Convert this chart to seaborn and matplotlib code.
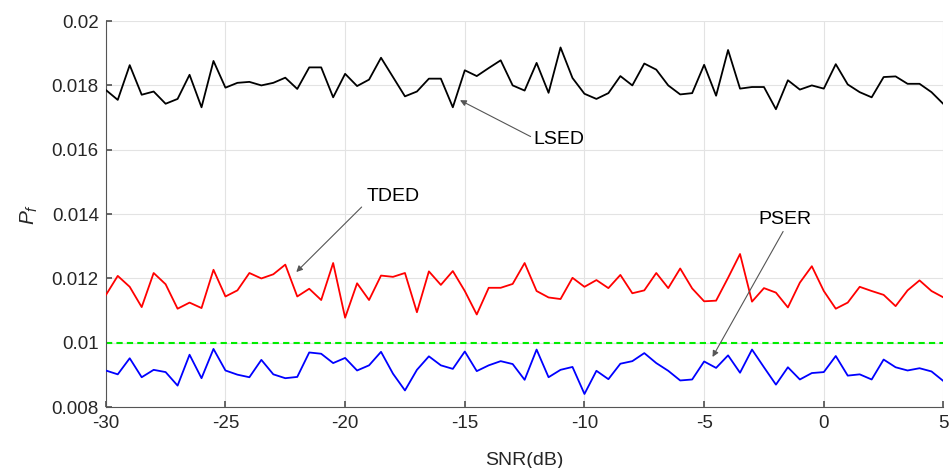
import numpy as np
import pandas as pd
import matplotlib
matplotlib.use("Agg")
import matplotlib.pyplot as plt
import seaborn as sns

snr = np.arange(-30, 5.01, 0.5)

lsed = [0.01786, 0.01755, 0.01863, 0.01771, 0.01781, 0.01743, 0.01758, 0.01833, 0.01732, 0.01876,
        0.01793, 0.01808, 0.01811, 0.01800, 0.01808, 0.01824, 0.01789, 0.01856, 0.01856, 0.01763,
        0.01836, 0.01798, 0.01818, 0.01886, 0.01826, 0.01766, 0.01781, 0.01821, 0.01821, 0.01732,
        0.01847, 0.01829, 0.01854, 0.01878, 0.01800, 0.01784, 0.01870, 0.01777, 0.01918, 0.01823,
        0.01774, 0.01758, 0.01776, 0.01829, 0.01800, 0.01868, 0.01849, 0.01800, 0.01772, 0.01776,
        0.01864, 0.01768, 0.01910, 0.01790, 0.01795, 0.01795, 0.01726, 0.01816, 0.01787, 0.01800,
        0.01790, 0.01866, 0.01803, 0.01779, 0.01763, 0.01826, 0.01828, 0.01805, 0.01805, 0.01779,
        0.01742]

tded = [0.01148, 0.01208, 0.01174, 0.01111, 0.01217, 0.01182, 0.01106, 0.01125, 0.01108, 0.01227,
        0.01144, 0.01163, 0.01217, 0.01200, 0.01213, 0.01243, 0.01144, 0.01168, 0.01133, 0.01248,
        0.01078, 0.01185, 0.01133, 0.01209, 0.01205, 0.01217, 0.01095, 0.01222, 0.01180, 0.01223,
        0.01161, 0.01088, 0.01171, 0.01171, 0.01183, 0.01248, 0.01161, 0.01141, 0.01136, 0.01202,
        0.01174, 0.01195, 0.01170, 0.01211, 0.01154, 0.01163, 0.01217, 0.01170, 0.01231, 0.01169,
        0.01129, 0.01131, 0.01202, 0.01276, 0.01128, 0.01170, 0.01156, 0.01110, 0.01187, 0.01238,
        0.01161, 0.01106, 0.01125, 0.01174, 0.01161, 0.01149, 0.01114, 0.01163, 0.01194, 0.01161,
        0.01141]

pser = [0.00914, 0.00902, 0.00952, 0.00893, 0.00916, 0.00909, 0.00867, 0.00963, 0.00890, 0.00981,
        0.00914, 0.00901, 0.00893, 0.00947, 0.00902, 0.00890, 0.00894, 0.00970, 0.00966, 0.00937,
        0.00953, 0.00914, 0.00930, 0.00972, 0.00904, 0.00852, 0.00916, 0.00958, 0.00930, 0.00919,
        0.00973, 0.00912, 0.00930, 0.00943, 0.00934, 0.00885, 0.00979, 0.00893, 0.00916, 0.00925,
        0.00841, 0.00913, 0.00887, 0.00935, 0.00943, 0.00968, 0.00937, 0.00913, 0.00883, 0.00886,
        0.00942, 0.00922, 0.00961, 0.00907, 0.00979, 0.00924, 0.00870, 0.00924, 0.00886, 0.00906,
        0.00909, 0.00959, 0.00898, 0.00902, 0.00886, 0.00948, 0.00924, 0.00914, 0.00921, 0.00911,
        0.00881]

threshold = 0.01

x_ticks = [-30, -25, -20, -15, -10, -5, 0, 5]
y_ticks = [0.008, 0.01, 0.012, 0.014, 0.016, 0.018, 0.02]
y_tick_labels = ["0.008", "0.01", "0.012", "0.014", "0.016", "0.018", "0.02"]

df = pd.DataFrame({
    "SNR": np.concatenate([snr, snr, snr]),
    "Pf": np.concatenate([lsed, tded, pser]),
    "method": ["LSED"] * len(snr) + ["TDED"] * len(snr) + ["PSER"] * len(snr),
})

sns.set_theme(style="white")
plt.rcParams["font.family"] = ["Liberation Sans", "DejaVu Sans"]
plt.rcParams["mathtext.fontset"] = "custom"
plt.rcParams["mathtext.it"] = "Liberation Sans:italic"
plt.rcParams["mathtext.rm"] = "Liberation Sans"

fig = plt.figure(figsize=(9.53, 4.68), dpi=100)
ax = fig.add_axes([0.111, 0.130, 0.879, 0.825])

sns.lineplot(data=df, x="SNR", y="Pf", hue="method",
             palette={"LSED": "black", "TDED": "#ff0000", "PSER": "#0000ff"},
             linewidth=1.3, legend=False, ax=ax, zorder=3)
ax.axhline(threshold, color="#00ee00", linestyle=(0, (3, 2)), linewidth=1.5, zorder=2)

ax.set_xlim(-30, 5)
ax.set_ylim(0.008, 0.02)
ax.set_xticks(x_ticks)
ax.set_xticklabels([str(v) for v in x_ticks])
ax.set_yticks(y_ticks)
ax.set_yticklabels(y_tick_labels)
ax.grid(True, color="#e3e3e3", linewidth=0.8, zorder=0)
ax.set_axisbelow(True)
for s in ["top", "right"]:
    ax.spines[s].set_visible(False)
for s in ["left", "bottom"]:
    ax.spines[s].set_color("#555555")
    ax.spines[s].set_linewidth(0.8)
ax.tick_params(axis="both", direction="in", length=4, color="#555555",
               labelsize=13.5, labelcolor="#262626", pad=5)
ax.tick_params(axis="x", bottom=True, pad=6)
ax.tick_params(axis="y", left=True)
ax.set_xlabel("SNR(dB)", fontsize=14, color="#262626", labelpad=14)
ax.set_ylabel(r"$P_f$", fontsize=15, color="#262626", labelpad=8)

arrow = dict(arrowstyle="-|>", color="#555555", lw=0.8, mutation_scale=9,
             shrinkA=0, shrinkB=0)
ax.text(-12.12, 0.01633, "LSED", fontsize=14, color="black", ha="left", va="center")
ax.annotate("", xy=(-15.2, 0.01754), xytext=(-12.25, 0.01641), arrowprops=arrow)
ax.text(-19.12, 0.01454, "TDED", fontsize=14, color="black", ha="left", va="center")
ax.annotate("", xy=(-22.04, 0.0122), xytext=(-19.31, 0.01422), arrowprops=arrow)
ax.text(-2.74, 0.01382, "PSER", fontsize=14, color="black", ha="left", va="center")
ax.annotate("", xy=(-4.65, 0.00956), xytext=(-1.70, 0.01346), arrowprops=arrow)

fig.savefig("out.png", dpi=100, facecolor="white")
